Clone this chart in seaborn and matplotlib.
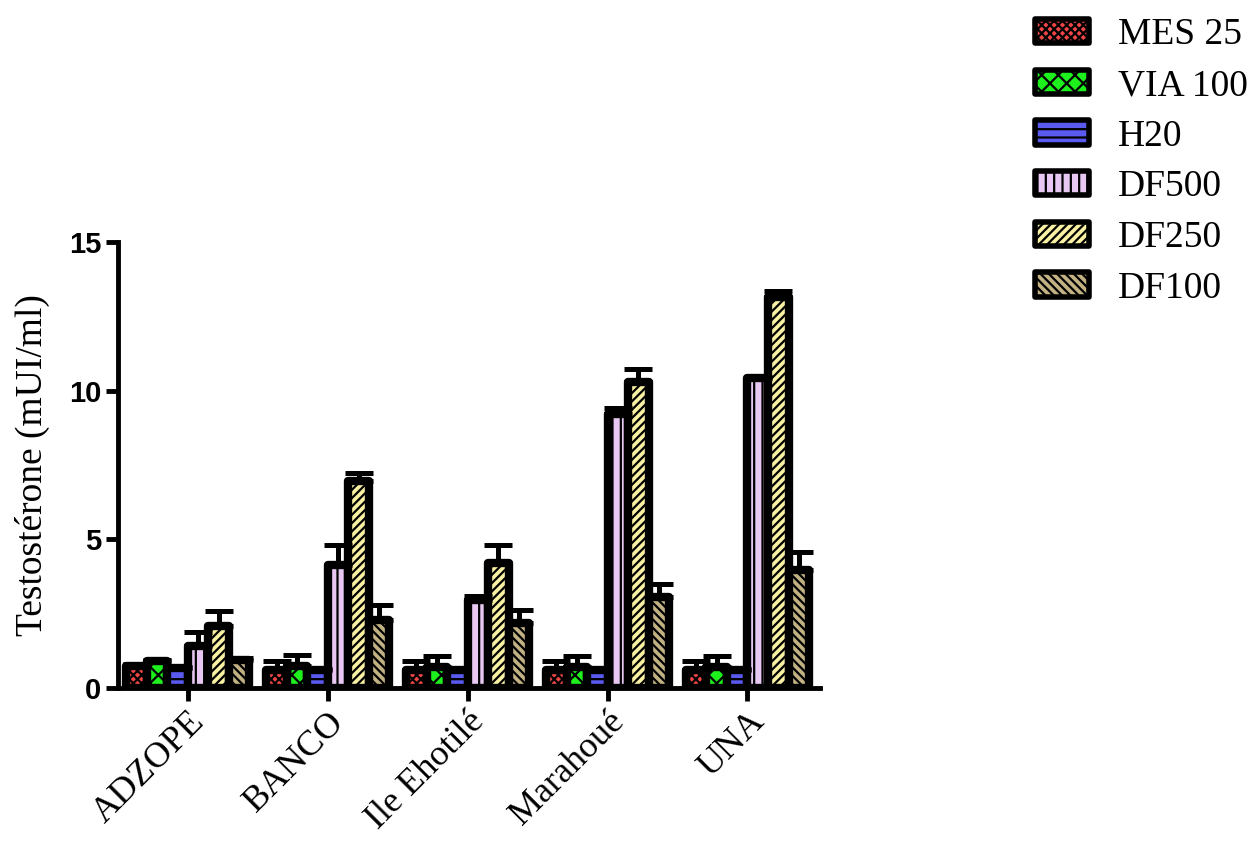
import numpy as np
import pandas as pd
import matplotlib
matplotlib.use("Agg")
import matplotlib.pyplot as plt
import seaborn as sns

sites = ["ADZOPE", "BANCO", "Ile Ehotilé", "Marahoué", "UNA"]
groups = ["MES 25", "VIA 100", "H20", "DF500", "DF250", "DF100"]

# mean per site, one list per treatment
mes25 = [0.75, 0.60, 0.60, 0.60, 0.60]
via100 = [0.90, 0.75, 0.72, 0.72, 0.72]
h20 = [0.67, 0.62, 0.62, 0.62, 0.62]
df500 = [1.40, 4.15, 2.95, 9.20, 10.42]
df250 = [2.08, 6.95, 4.20, 10.30, 13.15]
df100 = [0.95, 2.30, 2.20, 3.05, 3.98]

# upper error (SEM)
mes25_err = [0.05, 0.30, 0.30, 0.30, 0.30]
via100_err = [0.05, 0.35, 0.35, 0.35, 0.35]
h20_err = [0.03, 0.03, 0.03, 0.03, 0.03]
df500_err = [0.50, 0.65, 0.15, 0.20, 0.05]
df250_err = [0.50, 0.28, 0.60, 0.42, 0.20]
df100_err = [0.05, 0.50, 0.42, 0.45, 0.60]

colors = ["#f04646", "#1ef01e", "#5a5af0", "#e8c8f2", "#f8f0a2", "#c2b283"]
hatches = ["xxxx", "xx", "--", "||", "////", "\\\\\\\\"]

means = [mes25, via100, h20, df500, df250, df100]
errs = [mes25_err, via100_err, h20_err, df500_err, df250_err, df100_err]

rows = []
for g, m in zip(groups, means):
    for s, v in zip(sites, m):
        rows.append({"site": s, "group": g, "value": v})
df = pd.DataFrame(rows)

sns.set_style("ticks")
plt.rcParams["font.family"] = ["Liberation Serif", "DejaVu Serif"]
plt.rcParams["hatch.linewidth"] = 1.6
for k in ["text.color", "axes.labelcolor", "xtick.color", "ytick.color",
          "axes.edgecolor"]:
    plt.rcParams[k] = "black"

fig = plt.figure(figsize=(12.58, 8.66), dpi=100)
ax = fig.add_axes([0.0938, 0.2055, 0.5582, 0.5151])

sns.barplot(data=df, x="site", y="value", hue="group", order=sites,
            hue_order=groups, palette=colors, saturation=1, errorbar=None,
            width=0.88, edgecolor="black", linewidth=6, ax=ax)

bar_conts = list(ax.containers)
for i, cont in enumerate(bar_conts):
    xs = []
    for p in cont:
        p.set_hatch(hatches[i])
        p.set_joinstyle("round")
        xs.append(p.get_x() + p.get_width() / 2)
    ax.errorbar(xs, means[i], yerr=[np.zeros(len(sites)), errs[i]],
                fmt="none", ecolor="black", elinewidth=3.6,
                capsize=10, capthick=3.6, zorder=1)

ax.set_xlim(-0.5, 4.52)
ax.set_ylim(0, 15)
ax.set_yticks([0, 5, 10, 15])
sns.despine(ax=ax)
ax.spines["left"].set_bounds(0, 15)
for sp in ["left", "bottom"]:
    ax.spines[sp].set_linewidth(3.5)
ax.tick_params(axis="both", length=9, width=3.5, direction="out",
               color="black")
ax.tick_params(axis="y", pad=3)
for lab in ax.get_yticklabels():
    lab.set_fontfamily("Liberation Sans")
    lab.set_fontweight("bold")
    lab.set_fontsize(21)
ax.set_xticks(range(len(sites)))
ax.set_xticklabels(sites, rotation=45, ha="right", va="top",
                   rotation_mode="anchor", fontsize=26)
ax.set_xlabel("")
ax.set_ylabel("Testostérone (mUI/ml)", fontsize=27, labelpad=14)

handles, labels = ax.get_legend_handles_labels()
ax.get_legend().remove()
leg = fig.legend(handles, labels, loc="upper left",
                 bbox_to_anchor=(1035 / 1258, 1 - 18 / 866), frameon=False,
                 fontsize=27, handlelength=1.45, handleheight=0.62,
                 handletextpad=0.75, labelspacing=0.43, borderpad=0,
                 borderaxespad=0)
for i, h in enumerate(leg.legend_handles):
    h.set_hatch(hatches[i])
    h.set_linewidth(4)
    h.set_joinstyle("round")

fig.savefig("out.png", dpi=100)
plt.close()
